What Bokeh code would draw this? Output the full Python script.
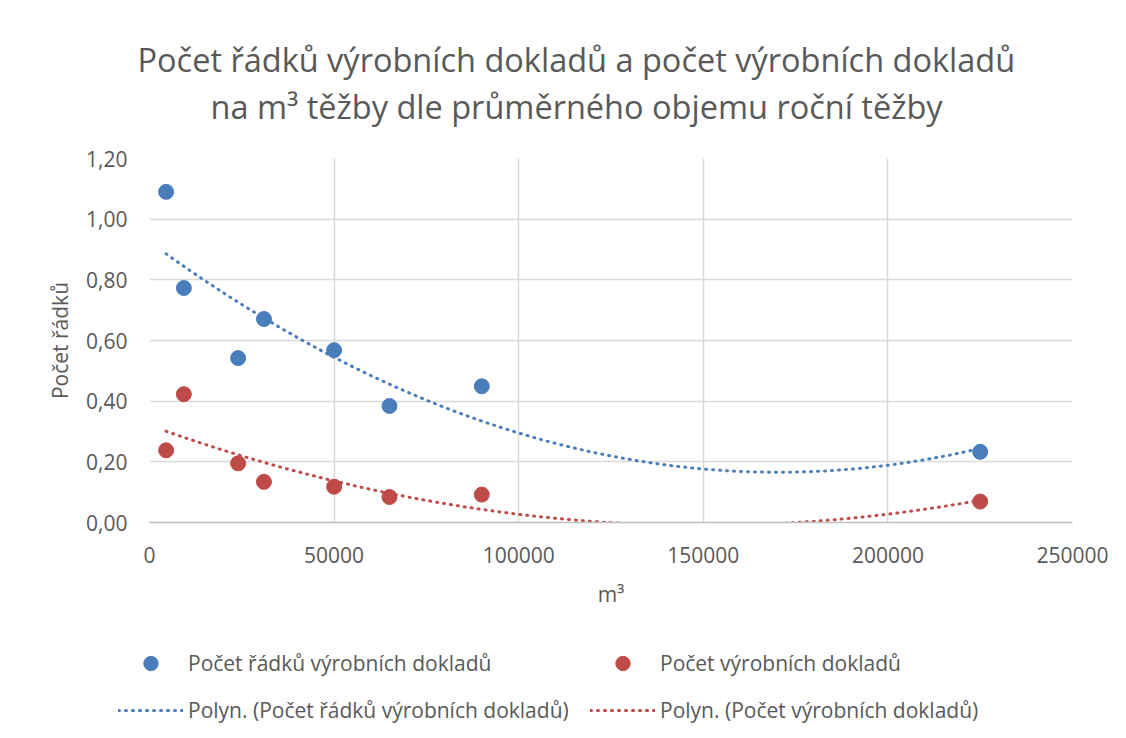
import numpy as np
from bokeh.plotting import figure
from bokeh.layouts import column, row
from bokeh.models import (ColumnDataSource, FixedTicker, CustomJSTickFormatter,
                          Legend, LegendItem, Title, Range1d)
from bokeh.embed import file_html
from bokeh.resources import INLINE

# ---- data ----
objem_m3 = [4500, 9300, 24000, 31000, 50000, 65000, 90000, 225000]
radky = [1.09, 0.773, 0.542, 0.671, 0.568, 0.384, 0.449, 0.233]
doklady = [0.238, 0.423, 0.195, 0.134, 0.118, 0.084, 0.092, 0.069]
y_ticks = [0.0, 0.2, 0.4, 0.6, 0.8, 1.0, 1.2]
x_ticks = [0, 50000, 100000, 150000, 200000, 250000]

name_radky = "Počet řádků výrobních dokladů"
name_doklady = "Počet výrobních dokladů"
title_1 = "Počet řádků výrobních dokladů a počet výrobních dokladů"
title_2 = "na m³ těžby dle průměrného objemu roční těžby"

BLUE = "#4A7EBB"
RED = "#BE4B48"
TXT = "#595959"
FONT = "Open Sans"

# polynomial (order 2) trendlines, as Excel computes them
xs = np.array(objem_m3, dtype=float)
xt = np.linspace(xs.min(), xs.max(), 300)
fit_r = np.polyval(np.polyfit(xs, np.array(radky), 2), xt)
fit_d = np.polyval(np.polyfit(xs, np.array(doklady), 2), xt)

src = ColumnDataSource(dict(x=objem_m3, r=radky, d=doklady))
trend = ColumnDataSource(dict(x=xt, r=fit_r, d=fit_d))

p = figure(width=1126, height=610, output_backend="svg", toolbar_location=None,
           x_range=Range1d(0, 250000), y_range=Range1d(0, 1.2),
           min_border_left=149, min_border_right=54, min_border_top=158,
           min_border_bottom=86)
p.outline_line_color = None
p.background_fill_color = "white"
p.border_fill_color = "white"

# titles (two lines) + spacer between title and plot area
t0 = Title(text=" ", text_font=FONT, text_font_size="21px", standoff=0)
t2 = Title(text=title_2, align="left", offset=61, text_font=FONT, text_font_size="32.5px",
           text_font_style="normal", text_color=TXT, standoff=0)
t1 = Title(text=title_1, align="left", offset=-12, text_font=FONT, text_font_size="32.5px",
           text_font_style="normal", text_color=TXT, standoff=0)
p.add_layout(t0, "above")
p.add_layout(t2, "above")
p.add_layout(t1, "above")

# axes
for ax in (p.xaxis[0], p.yaxis[0]):
    ax.major_tick_line_color = None
    ax.minor_tick_line_color = None
    ax.major_label_text_font = FONT
    ax.major_label_text_font_size = "21px"
    ax.major_label_text_color = TXT
    ax.axis_label_text_font = FONT
    ax.axis_label_text_font_size = "21px"
    ax.axis_label_text_font_style = "normal"
    ax.axis_label_text_color = TXT

p.xaxis.ticker = FixedTicker(ticks=x_ticks)
p.xaxis.formatter = CustomJSTickFormatter(code="return tick.toFixed(0);")
p.xaxis.axis_line_color = "#BFBFBF"
p.xaxis.axis_line_width = 1.5
p.xaxis.axis_label = "m³"
p.xaxis.major_label_standoff = 18
p.xaxis.axis_label_standoff = 14

p.yaxis.ticker = FixedTicker(ticks=y_ticks)
p.yaxis.formatter = CustomJSTickFormatter(code="return tick.toFixed(2).replace('.', ',');")
p.yaxis.axis_line_color = None
p.yaxis.axis_label = "Počet řádků"
p.yaxis.major_label_standoff = 16
p.yaxis.axis_label_standoff = 9

p.xgrid.grid_line_color = "#D9D9D9"
p.ygrid.grid_line_color = "#D9D9D9"
p.xgrid.grid_line_width = 1.5
p.ygrid.grid_line_width = 1.5

# trendlines
line_style = dict(line_width=3, line_dash="1 6", line_cap="round")
p.line("x", "r", source=trend, line_color=BLUE, **line_style)
p.line("x", "d", source=trend, line_color=RED, **line_style)

# points
p.scatter("x", "r", source=src, size=15, fill_color=BLUE, line_color=BLUE)
p.scatter("x", "d", source=src, size=15, fill_color=RED, line_color=RED)

# ---- legend strip below the chart (its own canvas, same styles) ----
q = figure(width=1126, height=128, output_backend="svg", toolbar_location=None,
           x_range=Range1d(-2, -1), y_range=Range1d(-2, -1),
           x_axis_type=None, y_axis_type=None,
           min_border_left=0, min_border_right=0, min_border_top=0, min_border_bottom=0)
q.outline_line_color = None
q.xgrid.visible = False
q.ygrid.visible = False
qr = q.scatter("x", "r", source=src, size=15, fill_color=BLUE, line_color=BLUE)
qd = q.scatter("x", "d", source=src, size=15, fill_color=RED, line_color=RED)
ql = q.line("x", "r", source=trend, line_color=BLUE, **line_style)
qm = q.line("x", "d", source=trend, line_color=RED, **line_style)

legend = Legend(items=[
    LegendItem(label=name_radky, renderers=[qr]),
    LegendItem(label=name_doklady, renderers=[qd]),
    LegendItem(label="Polyn. (" + name_radky + ")", renderers=[ql]),
    LegendItem(label="Polyn. (" + name_doklady + ")", renderers=[qm]),
], orientation="horizontal", ncols=2, glyph_width=65, glyph_height=36,
   label_standoff=5, spacing=11, padding=0, margin=0, label_width=391,
   label_text_font=FONT, label_text_font_size="21px", label_text_color=TXT,
   border_line_color=None, background_fill_alpha=0, location=(118, 10))
q.add_layout(legend, "center")

layout = column(p, row(q), spacing=0)
open("out.html", "w").write(file_html(layout, INLINE))
